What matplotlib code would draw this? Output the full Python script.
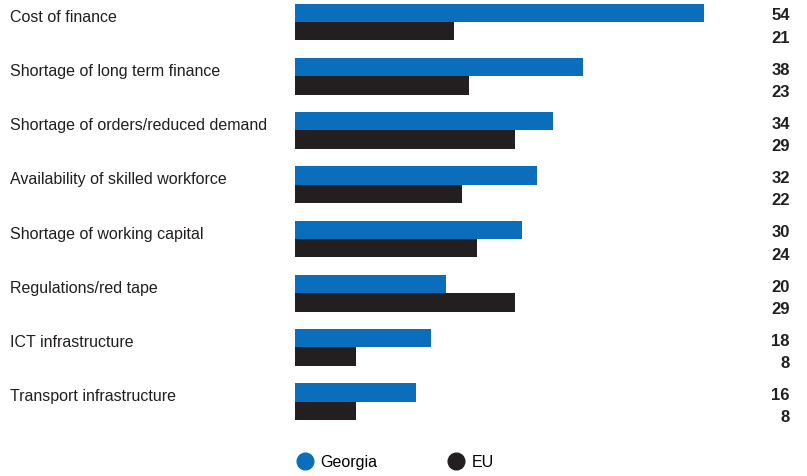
import matplotlib
matplotlib.use("Agg")
import matplotlib.pyplot as plt
from matplotlib.lines import Line2D
import numpy as np

categories = ["Cost of finance", "Shortage of long term finance", "Shortage of orders/reduced demand",
              "Availability of skilled workforce", "Shortage of working capital", "Regulations/red tape",
              "ICT infrastructure", "Transport infrastructure"]
georgia = [54, 38, 34, 32, 30, 20, 18, 16]
eu = [21, 23, 29, 22, 24, 29, 8, 8]

BLUE = "#0a6ebd"
DARK = "#231f20"
plt.rcParams['font.family'] = ['Liberation Sans', 'DejaVu Sans']

fig = plt.figure(figsize=(8.07, 4.77), dpi=100)
W, H = 807, 477
left_px, right_px = 295, 790
top_px, bot_px = 4.0, 421.7
ax = fig.add_axes([left_px / W, 1 - bot_px / H, (right_px - left_px) / W, (bot_px - top_px) / H])

y = np.arange(len(categories))
bh = 0.34
ax.barh(y - bh / 2, georgia, height=bh, color=BLUE)
ax.barh(y + bh / 2, eu, height=bh, color=DARK)
scale = (704 - 295) / 54
xmax = (right_px - left_px) / scale
ax.set_xlim(0, xmax)
ax.set_ylim(7.35, -0.35)
ax.axis('off')

FS = 11.5
for i, c in enumerate(categories):
    ax.text(-(left_px - 10) / scale, i - 0.11, c, ha='left', va='center',
            fontsize=FS, color=DARK)
    ax.text(xmax, i - 0.13, str(georgia[i]), ha='right', va='center', fontsize=FS + 0.5,
            fontweight='bold', color=DARK)
    ax.text(xmax, i + 0.28, str(eu[i]), ha='right', va='center', fontsize=FS + 0.5,
            fontweight='bold', color=DARK)

handles = [Line2D([], [], marker='o', ls='', color=BLUE, markersize=12),
           Line2D([], [], marker='o', ls='', color=DARK, markersize=12)]
fig.legend(handles, ["Georgia", "EU"], loc='center left', bbox_to_anchor=(293 / W, 1 - 463 / H),
           ncol=2, frameon=False, fontsize=FS, handletextpad=0.2, columnspacing=4.2,
           handlelength=1.5, borderaxespad=0, borderpad=0)

fig.savefig("out.png", dpi=100)
